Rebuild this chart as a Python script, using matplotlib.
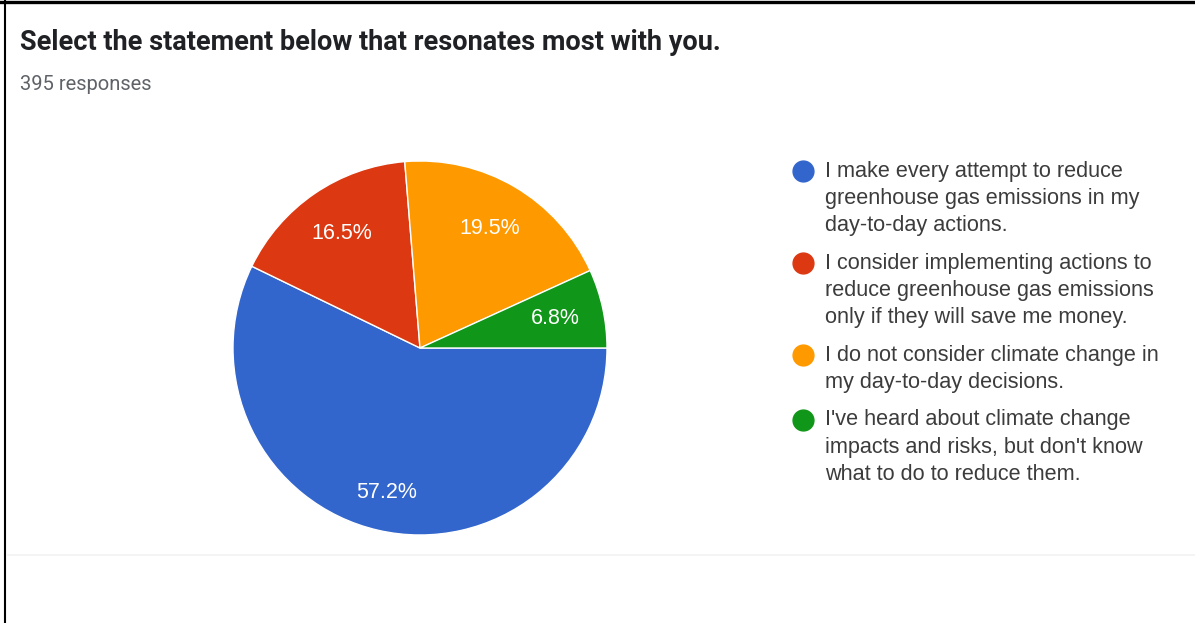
import matplotlib.pyplot as plt
from matplotlib.lines import Line2D

W, H = 1195, 623

title = 'Select the statement below that resonates most with you.'
subtitle = '395 responses'
shares = [57.2, 16.5, 19.5, 6.8]
colors = ['#3366cc', '#dc3912', '#ff9900', '#109618']
legend_lines = [
    ['I make every attempt to reduce', 'greenhouse gas emissions in my', 'day-to-day actions.'],
    ['I consider implementing actions to', 'reduce greenhouse gas emissions', 'only if they will save me money.'],
    ['I do not consider climate change in', 'my day-to-day decisions.'],
    ["I've heard about climate change", "impacts and risks, but don't know", 'what to do to reduce them.'],
]

fig = plt.figure(figsize=(W / 100, H / 100), dpi=100)

# overlay in pixel coordinates for the frame, headings and legend
ov = fig.add_axes([0, 0, 1, 1])
ov.set_xlim(0, W)
ov.set_ylim(H, 0)
ov.axis('off')

ov.plot([0, W], [1.5, 1.5], color='black', lw=2.4)
ov.plot([5, 5], [0, H], color='black', lw=1.5)
ov.plot([8, W], [555, 555], color='#f2f2f2', lw=1.2)

ov.text(20, 43, title, fontsize=19.5, fontweight='bold', family='Roboto',
        color='#202124', va='center', ha='left')
ov.text(20, 85, subtitle, fontsize=14.5, family='Roboto', color='#5f6368',
        va='center', ha='left')

# pie, centre ~ (420, 348), radius ~ 187 px
cx, cy, r = 420, 348, 187
ax = fig.add_axes([(cx - r) / W, (H - cy - r) / H, 2 * r / W, 2 * r / H])
wedges, _, autotexts = ax.pie(shares, colors=colors, startangle=0, counterclock=False,
                              autopct='%.1f%%', pctdistance=0.74,
                              wedgeprops=dict(edgecolor='white', linewidth=1))
for t in autotexts:
    t.set_color('white')
    t.set_fontsize(15.5)
    t.set_family('Liberation Sans')
# the big slice label sits a little further out
bx, by = autotexts[0].get_position()
autotexts[0].set_position((bx * 1.07, by * 1.07))
ax.set_xlim(-1, 1)
ax.set_ylim(-1, 1)
ax.set_aspect('auto')
ax.axis('off')

# legend drawn by hand: dot beside the first line of each wrapped label
y = 171
for c, lines in zip(colors, legend_lines):
    ov.add_line(Line2D([803], [y], marker='o', markersize=15, color=c, lw=0))
    for ln in lines:
        ov.text(825, y, ln, fontsize=15.6, family='Liberation Sans', color='#3c3c3c',
                va='center', ha='left')
        y += 27.5
    y += 9.5

fig.savefig('out.png', dpi=100)
